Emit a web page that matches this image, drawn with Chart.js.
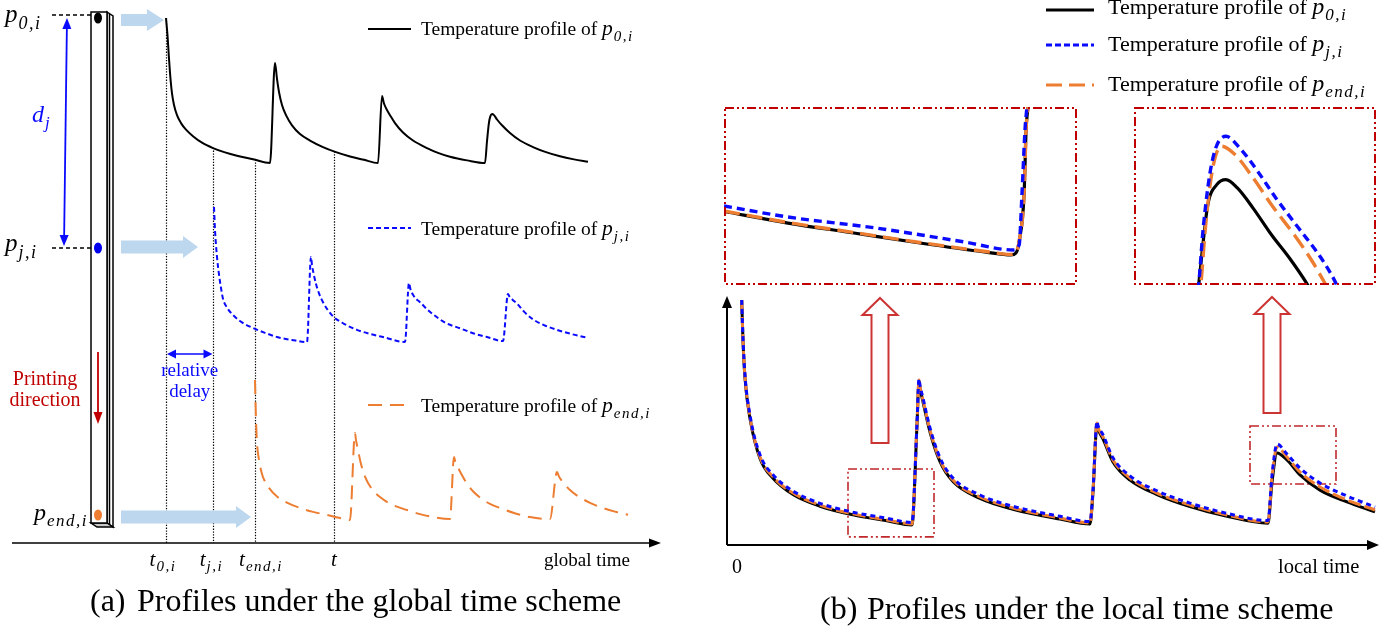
<!DOCTYPE html>
<html>
<head>
<meta charset="utf-8">
<title>Temperature profiles: global vs local time</title>
<script src="https://cdn.jsdelivr.net/npm/chart.js@4.4.1/dist/chart.umd.min.js"></script>
<style>
  html, body { margin: 0; padding: 0; background: #fff; }
  #wrap { position: relative; width: 1398px; height: 630px; overflow: hidden; background: #fff; }
  canvas { position: absolute; }
</style>
</head>
<body>
<div id="wrap">
  <canvas id="globalChart" width="690" height="630" style="left:0;top:0"></canvas>
  <canvas id="localChart" width="708" height="630" style="left:690px;top:0"></canvas>
  <canvas id="troughZoom" width="353" height="178" style="left:724px;top:107px"></canvas>
  <canvas id="peakZoom" width="242" height="178" style="left:1134px;top:107px"></canvas>
</div>
<script>
// ---------- (a) profiles on the global time axis (relative temperature) ----------
const p0Time = [0, 0.15, 0.3, 0.45, 0.6, 0.8, 1.1, 1.5, 2.0, 2.7, 3.6, 4.7, 5.9, 7.1, 8.7, 10.4,
  10.9, 11.1, 11.3, 11.6, 12.0, 12.6, 13.4, 14.4, 15.7, 17.0, 18.4, 19.8, 21.2,
  21.6, 21.8, 22.1, 22.4, 22.9, 23.7, 24.7, 26.1, 27.2, 28.4, 30.1, 31.9,
  32.1, 32.3, 32.45, 32.6, 32.8, 33.1, 33.6, 34.4, 35.4, 36.7, 38.0, 39.4, 40.8, 42.2];
const p0Temp = [100, 88, 72, 58, 48, 40, 33, 27.5, 23, 18.5, 14, 10.3, 7.3, 5, 2.6, 0,
  69, 58, 49, 40, 33, 26, 20, 15.5, 11, 7.5, 4.5, 2.2, 0,
  46.2, 41, 36.5, 33, 27.5, 21, 15.5, 10.3, 7, 4.3, 1.8, 0,
  15, 28, 32.5, 33.8, 33, 30, 26, 20.7, 15.5, 11, 7.5, 4.6, 2.5, 0.9];

const pjTime = [4.8, 4.9, 5.1, 5.3, 5.5, 5.7, 6.1, 6.7, 7.6, 8.7, 9.9, 11.1, 12.6, 14.1,
  14.5, 14.6, 14.75, 15.0, 15.3, 15.7, 16.2, 16.7, 17.8, 19.1, 20.4, 21.7, 23.9,
  24.3, 24.45, 24.7, 25.0, 25.4, 26.0, 26.7, 28.0, 29.4, 30.7, 32.1, 33.7,
  34.2, 34.35, 34.7, 35.1, 35.8, 36.7, 37.8, 39.1, 40.6, 42.2];
const pjTemp = [100, 82.9, 63, 50, 40, 32, 25.5, 20, 14.5, 10.4, 6.8, 3.7, 1.5, 0,
  63, 57, 51, 43, 36, 29.5, 23.5, 19, 13.5, 9, 6, 3.7, 0,
  43.7, 39, 35, 32, 29.5, 25, 20.5, 14, 10.2, 6.5, 3.7, 0.7,
  35.6, 33.5, 31, 28.5, 22.5, 16.8, 12.5, 9, 5.8, 3];

const pendTime = [8.9, 8.95, 9.0, 9.1, 9.3, 9.5, 9.7, 10.3, 11.1, 12.2, 13.4, 14.7, 16.1, 17.3, 18.4,
  18.9, 19.0, 19.2, 19.5, 19.9, 20.5, 21.4, 22.6, 24.1, 25.4, 26.7, 28.4,
  28.8, 28.95, 29.2, 29.6, 30.1, 30.7, 31.6, 32.4, 33.4, 34.8, 36.4, 38.4,
  39.1, 39.3, 39.7, 40.4, 41.3, 42.4, 43.6, 44.9, 46.2];
const pendTemp = [100, 85, 71.4, 55, 43, 35.5, 30.7, 23, 16.8, 12, 8.6, 5.8, 3.6, 1.6, 0,
  62.1, 57, 50, 40, 31, 23, 16.4, 11, 7.1, 4.2, 2.1, 0.7,
  45, 41, 37.5, 32, 26, 20.5, 15, 11.5, 8.6, 5, 2.1, 0.7,
  34.3, 31, 27, 21.4, 16.5, 12.3, 8.8, 6, 3.8];

const markerTimes  = [0, 4.65, 8.9, 16.8];
const markerSubs   = ['0,i', 'j,i', 'end,i', ''];
const legendSubs   = ['0,i', 'j,i', 'end,i'];

// ---------- (b) same profiles on the local time axis ----------
const localTime = [1.47, 1.6, 1.8, 2.3, 3.3, 4.6, 6.6, 9.3, 12.6, 16.0, 18.5, 19.0, 19.2, 19.3, 19.6, 20.3, 21.3, 22.6, 25.3, 28.6, 33.3, 36.3, 36.6, 37.0, 37.1, 37.6, 38.6, 40.3, 43.0, 46.3, 50.0, 54.1, 54.5, 55.0, 56.0, 57.3, 59.3, 62.0, 64.8];
const localP0   = [100, 83.3, 68.0, 51.6, 35.3, 27.2, 20.6, 15.8, 12.3, 9.9, 8.2, 49.0, 66.9, 64.1, 58.4, 46.1, 34.0, 25.9, 19.0, 14.6, 10.6, 8.6, 21.6, 49.2, 47.4, 43.3, 33.9, 26.5, 20.6, 15.7, 11.7, 8.9, 25.5, 37.6, 34.7, 28.6, 22.4, 17.6, 13.5];
const localPj   = [100, 84.2, 69.3, 53.0, 36.8, 28.7, 22.0, 17.0, 13.4, 10.9, 9.2, 49.8, 67.8, 65.1, 60.0, 47.8, 35.6, 27.3, 20.4, 15.8, 11.7, 9.6, 22.4, 50.5, 48.8, 45.0, 35.6, 28.2, 22.1, 17.1, 12.9, 10.0, 28.5, 41.2, 37.1, 31.4, 25.3, 20.0, 15.5];
const localPend = [100, 83.7, 68.6, 52.2, 35.9, 27.8, 21.2, 16.3, 12.7, 10.2, 8.6, 49.8, 67.3, 64.5, 59.2, 46.9, 34.7, 26.5, 19.6, 15.1, 11.0, 9.0, 22.4, 49.8, 48.0, 44.1, 34.7, 27.3, 21.2, 16.3, 12.2, 9.4, 27.8, 40.0, 35.9, 29.8, 23.7, 18.4, 14.3];

// regions of (b) shown enlarged: [t0, t1, T0, T1]
const troughWindow = [12.1, 20.7, 3.3, 31.0];
const peakWindow   = [52.3, 60.9, 24.9, 48.6];

// enlarged views, in percent of the window
const troughP0X   = [0, 18.1, 36.8, 55.5, 74.2, 81.3, 82.7, 83.6, 85.0, 85.6, 86.1, 86.4];
const troughP0Y   = [41.3, 34.8, 29.2, 23.6, 18.5, 16.9, 18.0, 24.2, 50.6, 88.2, 100, 110];
const troughPendX = [0, 18.1, 36.8, 55.5, 74.2, 81.3, 82.7, 83.6, 85.0, 85.6, 86.1, 86.4];
const troughPendY = [41.6, 35.1, 29.5, 23.9, 18.8, 17.2, 18.3, 24.5, 50.8, 88.4, 100, 110];
const troughPjX   = [0, 18.1, 43.1, 68.0, 81.9, 83.6, 84.4, 85.3, 85.8, 86.1];
const troughPjY   = [44.4, 38.2, 32.0, 24.2, 19.7, 22.5, 50.6, 88.2, 100, 110];

const peakP0X   = [25.5, 26.7, 28.6, 30.5, 34.2, 38.0, 42.7, 49.2, 56.8, 64.3, 71.8, 73.5];
const peakP0Y   = [-10, 0, 24.4, 45.1, 56.4, 59.2, 54.5, 43.2, 28.2, 15, 0, -4];
const peakPjX   = [25.5, 26.7, 28.6, 32.3, 38.0, 43.6, 51.1, 58.6, 68.0, 77.4, 83.1, 85.0];
const peakPjY   = [-10, 0, 32, 69.5, 83.6, 77.1, 63.9, 48.9, 32, 15, 1.9, -4];
const peakPendX = [26.4, 27.6, 29.5, 32.3, 36.1, 41.7, 49.2, 56.8, 66.2, 73.7, 79.3, 81];
const peakPendY = [-10, 0, 32, 63.9, 78, 73.3, 60.2, 45.1, 28.2, 13.2, 0, -4];

// ---------- styling ----------
const SERIF  = '"Liberation Serif", "Times New Roman", serif';
const BLUE   = '#0a0aff';
const ORANGE = '#ed7d31';
const RED    = '#c00000';
const SKY    = '#bdd7ee';
Chart.defaults.font.family = SERIF;

function pts(xs, ys) { return xs.map((x, i) => ({ x, y: ys[i] })); }

// scale limits so that value v sits at originPx + v*pxPerUnit on a canvas starting at startPx
function rangeX(originPx, pxPerUnit, startPx, widthPx) {
  const min = (startPx - originPx) / pxPerUnit;
  return { min, max: min + widthPx / pxPerUnit };
}
// vertical: value v sits at basePx - v*pxPerUnit
function rangeY(basePx, pxPerUnit, topPx, heightPx) {
  return { min: (basePx - topPx - heightPx) / pxPerUnit, max: (basePx - topPx) / pxPerUnit };
}
function hidden(r) { return { type: 'linear', display: false, min: r.min, max: r.max }; }

function curve(data, color, width, dash, yAxisID, order) {
  return {
    data, yAxisID, order,
    borderColor: color, borderWidth: width, borderDash: dash,
    pointRadius: 0, fill: false, cubicInterpolationMode: 'monotone',
    borderCapStyle: 'butt', borderJoinStyle: 'round'
  };
}

function bareOptions(scales) {
  return {
    responsive: false, animation: false, devicePixelRatio: 1, events: [],
    layout: { padding: 0 },
    plugins: { legend: { display: false }, tooltip: { enabled: false } },
    scales
  };
}

function valueAt(xs, ys, t) {
  for (let i = 1; i < xs.length; i++) {
    if (t <= xs[i]) {
      const f = (t - xs[i - 1]) / (xs[i] - xs[i - 1]);
      return ys[i - 1] + f * (ys[i] - ys[i - 1]);
    }
  }
  return ys[ys.length - 1];
}

// ---------- drawing helpers ----------
function mathText(ctx, x, y, base, sub, size, color, align) {
  const subSize = Math.round(size * 0.72);
  ctx.save();
  ctx.textAlign = 'left'; ctx.textBaseline = 'alphabetic'; ctx.fillStyle = color;
  ctx.font = `italic ${size}px ${SERIF}`;
  const wb = ctx.measureText(base).width;
  ctx.font = `italic ${subSize}px ${SERIF}`;
  ctx.letterSpacing = '1.5px';
  const ws = sub ? ctx.measureText(sub).width : 0;
  const total = wb + (sub ? ws + 1 : 0);
  const x0 = align === 'center' ? x - total / 2 : align === 'right' ? x - total : x;
  if (sub) ctx.fillText(sub, x0 + wb + 1, y + size * 0.26);
  ctx.letterSpacing = '0px';
  ctx.font = `italic ${size}px ${SERIF}`;
  ctx.fillText(base, x0, y);
  ctx.restore();
  return total;
}

function plainText(ctx, x, y, str, size, color, align) {
  ctx.save();
  ctx.font = `${size}px ${SERIF}`;
  ctx.fillStyle = color; ctx.textAlign = align || 'left'; ctx.textBaseline = 'alphabetic';
  ctx.fillText(str, x, y);
  const w = ctx.measureText(str).width;
  ctx.restore();
  return w;
}

function legendEntry(ctx, x1, x2, y, color, width, dash, textX, baseline, size, sub) {
  ctx.save();
  ctx.strokeStyle = color; ctx.lineWidth = width; ctx.setLineDash(dash);
  ctx.beginPath(); ctx.moveTo(x1, y); ctx.lineTo(x2, y); ctx.stroke();
  ctx.restore();
  const w = plainText(ctx, textX, baseline, 'Temperature profile of ', size, '#000');
  mathText(ctx, textX + w, baseline, 'p', sub, size + 2, '#000');
}

function arrowHead(ctx, tipX, tipY, angle, len, half, color) {
  ctx.save();
  ctx.translate(tipX, tipY); ctx.rotate(angle);
  ctx.fillStyle = color;
  ctx.beginPath(); ctx.moveTo(0, 0); ctx.lineTo(-len, -half); ctx.lineTo(-len, half); ctx.closePath();
  ctx.fill();
  ctx.restore();
}

function arrowLine(ctx, x1, y1, x2, y2, color, width, len, half, both) {
  const a = Math.atan2(y2 - y1, x2 - x1);
  ctx.save();
  ctx.strokeStyle = color; ctx.lineWidth = width; ctx.setLineDash([]);
  ctx.beginPath();
  ctx.moveTo(x1 + (both ? Math.cos(a) * len * 0.8 : 0), y1 + (both ? Math.sin(a) * len * 0.8 : 0));
  ctx.lineTo(x2 - Math.cos(a) * len * 0.8, y2 - Math.sin(a) * len * 0.8);
  ctx.stroke();
  ctx.restore();
  arrowHead(ctx, x2, y2, a, len, half, color);
  if (both) arrowHead(ctx, x1, y1, a + Math.PI, len, half, color);
}

function blockArrow(ctx, x1, x2, cy, shaftHalf, headHalf, headLen, color) {
  ctx.save();
  ctx.fillStyle = color;
  ctx.beginPath();
  ctx.moveTo(x1, cy - shaftHalf);
  ctx.lineTo(x2 - headLen, cy - shaftHalf);
  ctx.lineTo(x2 - headLen, cy - headHalf);
  ctx.lineTo(x2, cy);
  ctx.lineTo(x2 - headLen, cy + headHalf);
  ctx.lineTo(x2 - headLen, cy + shaftHalf);
  ctx.lineTo(x1, cy + shaftHalf);
  ctx.closePath();
  ctx.fill();
  ctx.restore();
}

function hollowArrowUp(ctx, cx, tipY, bottomY, shaftHalf, headHalf, headLen, color) {
  ctx.save();
  ctx.strokeStyle = color; ctx.lineWidth = 2; ctx.fillStyle = '#fff'; ctx.setLineDash([]);
  ctx.beginPath();
  ctx.moveTo(cx, tipY);
  ctx.lineTo(cx + headHalf, tipY + headLen);
  ctx.lineTo(cx + shaftHalf, tipY + headLen);
  ctx.lineTo(cx + shaftHalf, bottomY);
  ctx.lineTo(cx - shaftHalf, bottomY);
  ctx.lineTo(cx - shaftHalf, tipY + headLen);
  ctx.lineTo(cx - headHalf, tipY + headLen);
  ctx.closePath();
  ctx.fill(); ctx.stroke();
  ctx.restore();
}

function dashDotRect(ctx, x, y, w, h, color, width) {
  ctx.save();
  ctx.strokeStyle = color; ctx.lineWidth = width;
  ctx.setLineDash([9, 3, 2, 3, 2, 3]);
  ctx.strokeRect(x, y, w, h);
  ctx.restore();
}

function ellipse(ctx, cx, cy, rx, ry, color) {
  ctx.save();
  ctx.fillStyle = color;
  ctx.beginPath(); ctx.ellipse(cx, cy, rx, ry, 0, 0, Math.PI * 2); ctx.fill();
  ctx.restore();
}

// ---------- (a) global time scheme ----------
const AXIS_A = 543;
const globalX = rangeX(166, 10, 0, 690);
const bandP0   = rangeY(163, 1.45, 0, 630);
const bandPj   = rangeY(342, 1.35, 0, 630);
const bandPend = rangeY(520, 1.40, 0, 630);

const globalDecor = {
  id: 'globalDecor',
  beforeDatasetsDraw(chart) {
    const { ctx, scales } = chart;
    const x = scales.x, y0 = scales.y0;

    // time axis
    arrowLine(ctx, 12, AXIS_A, 661, AXIS_A, '#000', 1.5, 12, 4.5, false);

    // dotted markers dropped from the first profile
    ctx.save();
    ctx.strokeStyle = '#000'; ctx.lineWidth = 1.2; ctx.setLineDash([1.3, 1.5]);
    markerTimes.forEach(t => {
      const px = Math.round(x.getPixelForValue(t)) + 0.5;
      const top = y0.getPixelForValue(valueAt(p0Time, p0Temp, t));
      ctx.beginPath(); ctx.moveTo(px, top); ctx.lineTo(px, AXIS_A); ctx.stroke();
    });
    ctx.restore();
    const labelShift = [-3, -1, 6, 0];
    markerTimes.forEach((t, i) => {
      mathText(ctx, x.getPixelForValue(t) + labelShift[i], 566, 't', markerSubs[i], 21, '#000', 'center');
    });
    plainText(ctx, 544, 566, 'global time', 19, '#000');

    // relative delay between p0 and pj
    const xa = x.getPixelForValue(markerTimes[0]) + 1, xb = x.getPixelForValue(markerTimes[1]);
    arrowLine(ctx, xa, 354, xb, 354, BLUE, 1.5, 9, 4.5, true);
    plainText(ctx, (xa + xb) / 2, 376, 'relative', 19, BLUE, 'center');
    plainText(ctx, (xa + xb) / 2, 397, 'delay', 19, BLUE, 'center');

    // printed wall
    ctx.save();
    ctx.strokeStyle = '#000'; ctx.lineWidth = 1.5; ctx.fillStyle = '#fff';
    ctx.beginPath(); ctx.moveTo(107, 12); ctx.lineTo(113, 16); ctx.lineTo(113, 527); ctx.lineTo(107, 523); ctx.closePath();
    ctx.fill(); ctx.stroke();
    ctx.fillStyle = '#c8c8c8';
    ctx.beginPath(); ctx.moveTo(91, 523); ctx.lineTo(107, 523); ctx.lineTo(113, 527); ctx.lineTo(97, 527); ctx.closePath();
    ctx.fill(); ctx.stroke();
    ctx.fillStyle = '#fff';
    ctx.fillRect(91, 12, 16, 511); ctx.strokeRect(91, 12, 16, 511);
    ctx.beginPath(); ctx.moveTo(109.5, 14); ctx.lineTo(109.5, 525); ctx.stroke();
    ctx.restore();
    ellipse(ctx, 98, 18, 4, 5.5, '#000');
    ellipse(ctx, 98, 248, 4, 5.5, '#0000ee');
    ellipse(ctx, 98, 515, 4, 5.5, ORANGE);

    // point labels and leaders
    ctx.save();
    ctx.strokeStyle = '#000'; ctx.lineWidth = 1.5; ctx.setLineDash([4, 3]);
    ctx.beginPath(); ctx.moveTo(52, 15); ctx.lineTo(91, 15); ctx.stroke();
    ctx.beginPath(); ctx.moveTo(52, 248); ctx.lineTo(91, 248); ctx.stroke();
    ctx.restore();
    mathText(ctx, 5, 22, 'p', '0,i', 25, '#000');
    mathText(ctx, 5, 251, 'p', 'j,i', 25, '#000');
    mathText(ctx, 88, 520, 'p', 'end,i', 24, '#000', 'right');

    // layer distance d_j
    arrowLine(ctx, 67, 18, 64, 246, BLUE, 1.8, 11, 4.5, true);
    mathText(ctx, 32, 122, 'd', 'j', 24, BLUE);

    // printing direction
    plainText(ctx, 45, 385, 'Printing', 20, RED, 'center');
    plainText(ctx, 45, 406, 'direction', 20, RED, 'center');
    arrowLine(ctx, 98, 352, 98, 424, RED, 1.8, 12, 4.5, false);

    // heat input arrows
    blockArrow(ctx, 121, 164, 20, 6, 11, 17, SKY);
    blockArrow(ctx, 121, 198, 247, 6.5, 11, 15, SKY);
    blockArrow(ctx, 121, 251, 517, 6.5, 11, 15, SKY);

    // legend
    legendEntry(ctx, 368, 411, 29, '#000', 2, [], 421, 35, 19.5, legendSubs[0]);
    legendEntry(ctx, 368, 411, 228, BLUE, 2, [5, 3], 421, 235, 19.5, legendSubs[1]);
    legendEntry(ctx, 368, 411, 405, ORANGE, 2, [14, 8], 421, 412, 19.5, legendSubs[2]);

    // caption
    plainText(ctx, 90, 611, '(a)', 32, '#000');
    plainText(ctx, 137, 611, 'Profiles under the global time scheme', 32, '#000');
  }
};

new Chart(document.getElementById('globalChart'), {
  type: 'line',
  data: {
    datasets: [
      curve(pts(p0Time, p0Temp), '#000', 2, [], 'y0', 1),
      curve(pts(pjTime, pjTemp), BLUE, 2, [5, 3], 'yj', 2),
      curve(pts(pendTime, pendTemp), ORANGE, 2, [14, 8], 'yend', 3)
    ]
  },
  options: bareOptions({
    x: hidden(globalX),
    y0: hidden(bandP0),
    yj: hidden(bandPj),
    yend: hidden(bandPend)
  }),
  plugins: [globalDecor]
});

// ---------- (b) local time scheme ----------
const OX = 690;
const AXIS_B = 545;
const localX = rangeX(727, 10, OX, 708);
const localY = rangeY(AXIS_B, 2.45, 0, 630);

const localDecor = {
  id: 'localDecor',
  beforeDatasetsDraw(chart) {
    const { ctx, scales } = chart;
    const x = scales.x, y = scales.y;
    ctx.save();
    ctx.translate(-OX, 0);

    // axes
    const ox = x.getPixelForValue(0) + OX, oy = y.getPixelForValue(0);
    arrowLine(ctx, ox, oy, ox, 296, '#000', 2, 12, 5, false);
    arrowLine(ctx, ox, oy, 1379, oy, '#000', 2, 12, 5, false);
    plainText(ctx, 737, 573, '0', 20, '#000', 'center');
    plainText(ctx, 1278, 573, 'local time', 20.5, '#000');

    // enlarged windows
    [troughWindow, peakWindow].forEach(w => {
      const x1 = x.getPixelForValue(w[0]) + OX, x2 = x.getPixelForValue(w[1]) + OX;
      const y1 = y.getPixelForValue(w[3]), y2 = y.getPixelForValue(w[2]);
      dashDotRect(ctx, x1, y1, x2 - x1, y2 - y1, '#c0282b', 1.6);
    });
    hollowArrowUp(ctx, 880, 298, 443, 8.5, 17.5, 17, '#cc3333');
    hollowArrowUp(ctx, 1272, 297, 413, 8.5, 17.5, 17, '#cc3333');

    // legend
    legendEntry(ctx, 1046, 1094, 10, '#000', 3, [], 1108, 14, 22, legendSubs[0]);
    legendEntry(ctx, 1046, 1094, 45, BLUE, 3, [6, 3], 1108, 51, 22, legendSubs[1]);
    legendEntry(ctx, 1046, 1094, 85, ORANGE, 3, [16, 7], 1108, 91, 22, legendSubs[2]);

    // caption
    plainText(ctx, 820, 619, '(b)', 32, '#000');
    plainText(ctx, 867, 619, 'Profiles under the local time scheme', 32, '#000');
    ctx.restore();
  }
};

new Chart(document.getElementById('localChart'), {
  type: 'line',
  data: {
    datasets: [
      curve(pts(localTime, localP0), '#000', 3, [], 'y', 3),
      curve(pts(localTime, localPend), ORANGE, 3, [13, 4], 'y', 2),
      curve(pts(localTime, localPj), BLUE, 3, [5, 4], 'y', 1)
    ]
  },
  options: bareOptions({ x: hidden(localX), y: hidden(localY) }),
  plugins: [localDecor]
});

// ---------- enlarged views ----------
const zoomFrame = {
  id: 'zoomFrame',
  afterDraw(chart) {
    dashDotRect(chart.ctx, 1, 1, chart.width - 2, chart.height - 2, RED, 2);
  }
};

function zoomChart(id, sets) {
  return new Chart(document.getElementById(id), {
    type: 'line',
    data: {
      datasets: [
        curve(pts(sets.p0[0], sets.p0[1]), '#000', 3.2, [], 'y', 3),
        curve(pts(sets.pend[0], sets.pend[1]), ORANGE, 3.4, [16, 7], 'y', 2),
        curve(pts(sets.pj[0], sets.pj[1]), BLUE, 3.4, [8, 5], 'y', 1)
      ]
    },
    options: bareOptions({ x: hidden({ min: 0, max: 100 }), y: hidden({ min: 0, max: 100 }) }),
    plugins: [zoomFrame]
  });
}

zoomChart('troughZoom', {
  p0: [troughP0X, troughP0Y], pj: [troughPjX, troughPjY], pend: [troughPendX, troughPendY]
});
zoomChart('peakZoom', {
  p0: [peakP0X, peakP0Y], pj: [peakPjX, peakPjY], pend: [peakPendX, peakPendY]
});
</script>
</body>
</html>
